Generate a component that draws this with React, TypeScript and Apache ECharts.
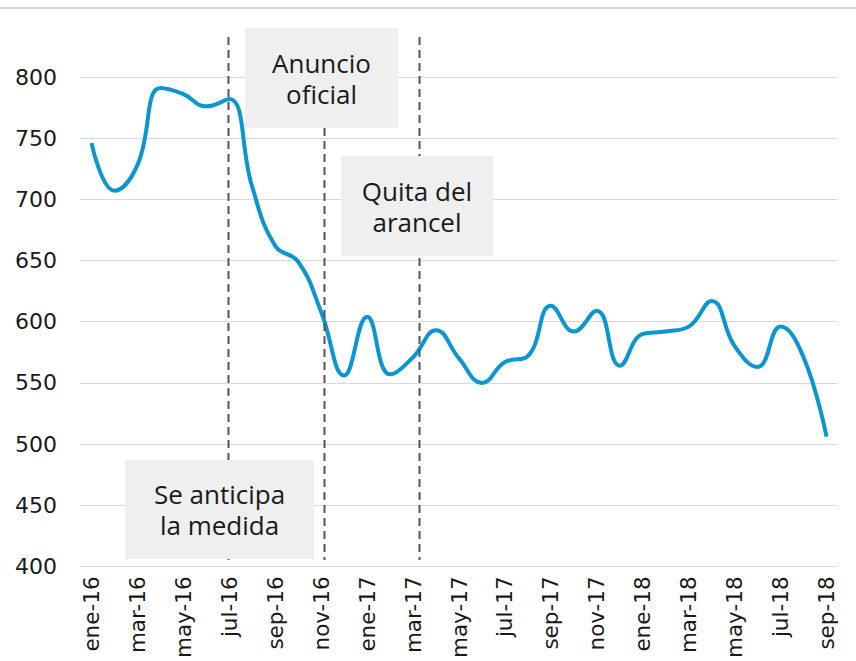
import React, { useEffect, useRef } from "react";
import * as echarts from "echarts";

const months = [
  "ene-16", "feb-16", "mar-16", "abr-16", "may-16", "jun-16", "jul-16", "ago-16", "sep-16", "oct-16", "nov-16", "dic-16",
  "ene-17", "feb-17", "mar-17", "abr-17", "may-17", "jun-17", "jul-17", "ago-17", "sep-17", "oct-17", "nov-17", "dic-17",
  "ene-18", "feb-18", "mar-18", "abr-18", "may-18", "jun-18", "jul-18", "ago-18", "sep-18",
];

const values = [
  746, 707, 728, 791, 786, 776, 782, 710, 662, 649, 608, 556,
  604, 557, 571, 593, 570, 550, 567, 572, 613, 592, 609, 564,
  590, 592, 596, 617, 580, 563, 596, 571, 506,
];

const yMin = 400;
const yMax = 800;
const yStep = 50;

// event markers, as positions along the month axis (index)
const eventPositions = [5.93, 10.11, 14.28];

const annotationLines = [
  ["Anuncio", "oficial"],
  ["Quita del", "arancel"],
  ["Se anticipa", "la medida"],
];
// layout of the annotation boxes (pixels)
const annotationBoxes = [
  { x: 245, y: 28, w: 153, h: 100 },
  { x: 341, y: 156, w: 152, h: 100 },
  { x: 125, y: 460, w: 189, h: 99 },
];

const axisFont = "'DejaVu Sans', sans-serif";
const noteFont = "'Open Sans', 'Noto Sans', sans-serif";

export default function App() {
  const ref = useRef<HTMLDivElement>(null);

  useEffect(() => {
    if (!ref.current) return;
    const chart = echarts.init(ref.current, null, { renderer: "svg" });
    chart.setOption({
      animation: false,
      grid: { left: 80, right: 18, top: 77, bottom: 92, containLabel: false },
      xAxis: {
        type: "category",
        data: months,
        boundaryGap: true,
        axisLine: { show: false },
        axisTick: { show: false },
        axisLabel: {
          interval: 1,
          rotate: 90,
          margin: 10,
          color: "#1a1a1a",
          fontSize: 21.5,
          fontFamily: axisFont,
        },
      },
      yAxis: {
        type: "value",
        min: yMin,
        max: yMax,
        interval: yStep,
        axisLine: { show: false },
        axisTick: { show: false },
        splitLine: { lineStyle: { color: "#d9d9d9", width: 1 } },
        axisLabel: {
          margin: 23,
          color: "#1a1a1a",
          fontSize: 22,
          fontFamily: axisFont,
        },
      },
      series: [
        {
          type: "line",
          data: values,
          smooth: 0.45,
          symbol: "none",
          lineStyle: { color: "#0a96d0", width: 4 },
          z: 3,
        },
      ],
    });

    const p0 = chart.convertToPixel({ xAxisIndex: 0 }, 0) as number;
    const p1 = chart.convertToPixel({ xAxisIndex: 0 }, 1) as number;
    const step = p1 - p0;

    const graphics: any[] = [
      {
        type: "rect",
        shape: { x: 0, y: 7, width: 856, height: 2 },
        style: { fill: "#d9d9d9" },
        z: 1,
      },
    ];
    eventPositions.forEach((pos) => {
      const x = Math.round(p0 + pos * step) + 0.5;
      graphics.push({
        type: "line",
        shape: { x1: x, y1: 37, x2: x, y2: 560 },
        style: { stroke: "#555555", lineWidth: 2, lineDash: [8, 5] },
        z: 5,
      });
    });
    annotationBoxes.forEach((b, i) => {
      graphics.push({
        type: "rect",
        shape: { x: b.x, y: b.y, width: b.w, height: b.h },
        style: { fill: "#efefef" },
        z: 10,
      });
      const lines = annotationLines[i];
      const cy = b.y + b.h / 2;
      lines.forEach((t, j) => {
        graphics.push({
          type: "text",
          x: b.x + b.w / 2,
          y: cy + (j - (lines.length - 1) / 2) * 31,
          style: {
            text: t,
            align: "center",
            verticalAlign: "middle",
            fontSize: 26,
            fontFamily: noteFont,
            fill: "#1a1a1a",
          },
          z: 11,
        });
      });
    });
    chart.setOption({ graphic: graphics });

    return () => chart.dispose();
  }, []);

  return (
    <div
      ref={ref}
      style={{ position: "fixed", left: 0, top: 0, width: 856, height: 661, background: "#fff" }}
    />
  );
}
